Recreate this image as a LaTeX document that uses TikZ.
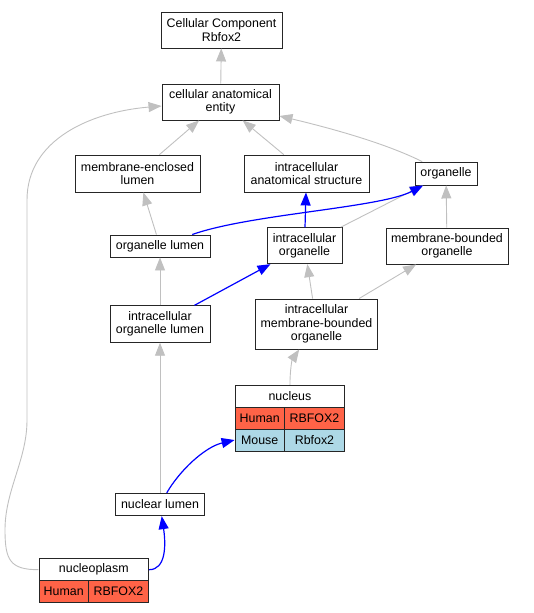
\documentclass[tikz,border=0pt]{standalone}
\usepackage{fontspec}
\setmainfont{Liberation Sans}
\usetikzlibrary{arrows.meta}
\definecolor{humanred}{HTML}{FF6347}
\definecolor{mouseblue}{HTML}{ADD8E6}
\definecolor{edgegray}{HTML}{C0C0C0}

\begin{document}
\begin{tikzpicture}[x=1pt, y=-1pt,
    term/.style={rectangle, draw=black!85, line width=0.9pt, fill=white, align=center, inner sep=1pt, font=\fontsize{12.4}{13.4}\selectfont},
    cell/.style={term, minimum height=22pt},
    human/.style={cell, fill=humanred},
    mouse/.style={cell, fill=mouseblue},
    gedge/.style={draw=edgegray, line width=0.9pt, -{Triangle[length=13pt, width=10pt]}},
    bedge/.style={draw=blue, line width=1.2pt, -{Triangle[length=13pt, width=10pt]}}]
    \useasboundingbox (0,0) rectangle (533,613);

    \node[term, minimum width=121pt, minimum height=36pt] (cc) at (221.5,30) {Cellular Component\\Rbfox2};
    \node[term, minimum width=117pt, minimum height=36pt] (cae) at (220.5,102) {cellular anatomical\\entity};
    \node[term, minimum width=125pt, minimum height=37pt] (mel) at (137.5,173.5) {membrane-enclosed\\lumen};
    \node[term, minimum width=125pt, minimum height=37pt] (ias) at (306.5,173.5) {intracellular\\anatomical structure};
    \node[term, minimum width=62pt, minimum height=23pt] (org) at (446,173.5) {organelle};
    \node[term, minimum width=100pt, minimum height=22pt] (ol) at (160,246) {organelle lumen};
    \node[term, minimum width=75pt, minimum height=36pt] (io) at (304.5,245.7) {intracellular\\organelle};
    \node[term, minimum width=122pt, minimum height=36pt] (mbo) at (447,246) {membrane-bounded\\organelle};
    \node[term, minimum width=100pt, minimum height=36.5pt] (iol) at (160,324) {intracellular\\organelle lumen};
    \node[term, minimum width=121.6pt, minimum height=50pt] (imbo) at (316.5,324) {intracellular\\membrane-bounded\\organelle};

    \node[cell, minimum width=109.7pt] (nuc) at (289.9,396.2) {nucleus};
    \node[human, minimum width=49.3pt] (nucH) at (259.7,418.3) {Human};
    \node[human, minimum width=60.4pt] (nucHg) at (314.5,418.3) {RBFOX2};
    \node[mouse, minimum width=49.3pt] (nucM) at (259.7,440) {Mouse};
    \node[mouse, minimum width=60.4pt] (nucMg) at (314.5,440) {Rbfox2};

    \node[term, minimum width=88.6pt, minimum height=22.4pt] (nl) at (160,504.5) {nuclear lumen};

    \node[cell, minimum width=109.7pt] (npl) at (93.8,569.7) {nucleoplasm};
    \node[human, minimum width=49.3pt] (nplH) at (63.7,591.5) {Human};
    \node[human, minimum width=60.4pt] (nplG) at (118.5,591.5) {RBFOX2};

    \draw[gedge] (cae) -- (cc);
    \draw[gedge] (mel) -- (cae);
    \draw[gedge] (ias) -- (cae);
    \draw[gedge] (org) .. controls (385,143) and (330,128) .. (cae);
    \draw[gedge] (npl.west) .. controls (10,569.7) and (5,560) .. (5,530)
        .. controls (5,490) and (27,460) .. (27,420) -- (27,200)
        .. controls (27,140) and (90,112) .. ([yshift=-4pt]cae.west);
    \draw[gedge] (ol) -- (mel);
    \draw[gedge] (io) -- (org);
    \draw[gedge] (mbo) -- (org);
    \draw[gedge] (iol) -- (ol);
    \draw[gedge] (imbo) -- (io);
    \draw[gedge] (imbo) -- (mbo);
    \draw[gedge] (nuc) .. controls (290,370) and (292,360) .. (imbo);
    \draw[gedge] (nl) -- (iol);

    \draw[bedge] (ol) .. controls (250,214) and (380,208) .. (org);
    \draw[bedge] (io) -- (ias);
    \draw[bedge] (iol) -- (io);
    \draw[bedge] (nl) .. controls (180,470) and (205,447) .. (nucM.west);
    \draw[bedge] (npl.east) .. controls (166,569.7) and (166,545) .. (nl);
\end{tikzpicture}
\end{document}
